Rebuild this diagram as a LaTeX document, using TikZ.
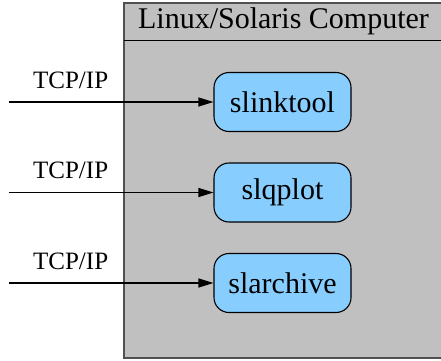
\documentclass[tikz,border=0pt]{standalone}
\usepackage{fontspec}
\setmainfont{Liberation Serif}
\usetikzlibrary{positioning,arrows.meta}
\definecolor{hostgray}{HTML}{C0C0C0}
\definecolor{progblue}{HTML}{87CEFF}
\definecolor{framegray}{HTML}{505050}

\begin{document}
\begin{tikzpicture}[x=1pt, y=1pt, node distance=90.5pt,
    host/.style={draw=framegray, fill=hostgray, line width=2pt, minimum width=319pt, minimum height=355pt, inner sep=0pt},
    hosttitle/.style={minimum width=319pt, minimum height=38pt, inner sep=0pt, font=\fontsize{30}{36}\selectfont},
    prog/.style={draw=black, fill=progblue, rounded corners=15pt, line width=1.1pt, minimum width=137pt, minimum height=59pt, font=\fontsize{30}{36}\selectfont},
    feed/.style={-{Triangle[length=15pt,width=9pt]}, line width=1.2pt},
    proto/.style={anchor=base, yshift=14pt, font=\fontsize{25}{30}\selectfont}]
    \useasboundingbox (0,0) rectangle (441,360);

    \node[host] (computer) at (283.5,179.5) {};
    \node[hosttitle, anchor=north] (title) at (computer.north) {Linux/Solaris Computer};
    \draw[line width=1pt] (title.south west) -- (title.south east);

    \node[prog] (slinktool) at (282.5,258) {slinktool};
    \node[prog] (slqplot) [below of=slinktool] {slqplot};
    \node[prog] (slarchive) [below of=slqplot] {slarchive};

    \coordinate[left=204pt of slinktool.west] (in1);
    \coordinate[left=204pt of slqplot.west] (in2);
    \coordinate[left=204pt of slarchive.west] (in3);

    \draw[feed] (in1) -- (slinktool) node[proto, pos=0.3] {TCP/IP};
    \draw[feed] (in2) -- (slqplot) node[proto, pos=0.3] {TCP/IP};
    \draw[feed] (in3) -- (slarchive) node[proto, pos=0.3] {TCP/IP};
\end{tikzpicture}
\end{document}
